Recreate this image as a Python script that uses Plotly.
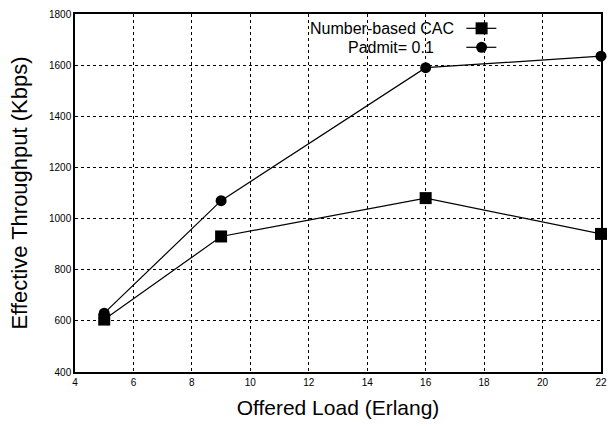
import plotly.graph_objects as go

load = [5, 9, 16, 22]
number_based = [605, 930, 1080, 940]
padmit = [630, 1070, 1590, 1635]

x_ticks = [4, 6, 8, 10, 12, 14, 16, 18, 20, 22]
y_ticks = [400, 600, 800, 1000, 1200, 1400, 1600, 1800]

font = "Liberation Sans, Arial, sans-serif"

fig = go.Figure()
fig.add_trace(go.Scatter(x=load, y=number_based, mode="lines+markers",
                         name="Number-based CAC",
                         line=dict(color="black", width=1.2),
                         marker=dict(symbol="square", size=12, color="black"),
                         cliponaxis=False))
fig.add_trace(go.Scatter(x=load, y=padmit, mode="lines+markers",
                         name="Padmit= 0.1",
                         line=dict(color="black", width=1.2),
                         marker=dict(symbol="circle", size=11, color="black"),
                         cliponaxis=False))

axis_common = dict(showline=True, linecolor="black", linewidth=1.5, mirror=True,
                   showgrid=True, gridcolor="black", griddash="dot", gridwidth=0.8,
                   ticks="", zeroline=False,
                   tickfont=dict(family=font, size=10, color="black"))

fig.update_xaxes(range=[4, 22], tickvals=x_ticks, **axis_common,
                 title=dict(text="Offered Load (Erlang)", font=dict(family=font, size=21, color="black"), standoff=14))
fig.update_yaxes(range=[400, 1800], tickvals=y_ticks, **axis_common,
                 title=dict(text="Effective Throughput (Kbps)", font=dict(family=font, size=22, color="black"), standoff=15))

# Custom legend (text right-aligned, sample to the right), gnuplot style
legend_items = [("Number-based CAC", "square", 0.724, 0.960),
                ("Padmit= 0.1", "circle", 0.686, 0.907)]
for label, sym, tx, yy in legend_items:
    fig.add_annotation(xref="paper", yref="paper", x=tx, y=yy, text=label,
                       showarrow=False, xanchor="right", yanchor="middle",
                       font=dict(family=font, size=16, color="black"))
    fig.add_shape(type="line", xref="paper", yref="paper", x0=0.744, x1=0.801, y0=yy, y1=yy,
                  line=dict(color="black", width=1.2))
    cx = 0.773
    if sym == "square":
        fig.add_shape(type="rect", xref="paper", yref="paper", xsizemode="pixel", ysizemode="pixel",
                      xanchor=cx, yanchor=yy, x0=-6, x1=6, y0=-6, y1=6,
                      fillcolor="black", line=dict(width=0))
    else:
        fig.add_shape(type="circle", xref="paper", yref="paper", xsizemode="pixel", ysizemode="pixel",
                      xanchor=cx, yanchor=yy, x0=-5.5, x1=5.5, y0=-5.5, y1=5.5,
                      fillcolor="black", line=dict(width=0))

fig.update_layout(width=615, height=426, showlegend=False,
                  margin=dict(l=75, r=8, t=14, b=54),
                  paper_bgcolor="white", plot_bgcolor="white",
                  font=dict(family=font, color="black"))

fig.write_html("out.html")
